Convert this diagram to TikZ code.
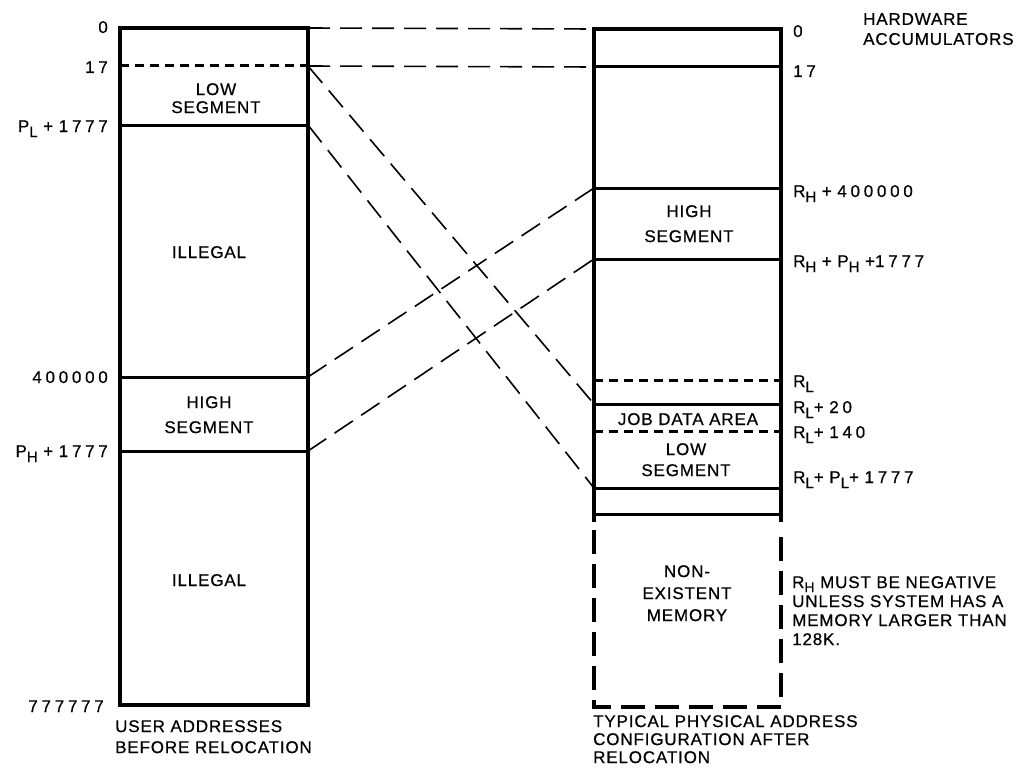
\documentclass[tikz,border=0pt]{standalone}
\usepackage{fontspec}
\setmainfont{Liberation Sans}[LetterSpace=5,FakeBold=0.6]
\newcommand{\lowsub}[1]{\raisebox{-5pt}{\fontsize{15}{15}\selectfont #1}}
\newcommand{\dgt}[1]{{\addfontfeature{LetterSpace=22}#1}}
\begin{document}
\begin{tikzpicture}[x=1pt,y=-1pt,
  lbl/.style={inner sep=0pt,font=\fontsize{17}{19}\selectfont},
  boxline/.style={line width=3.5pt},
  divline/.style={line width=3pt},
  ddivline/.style={line width=3pt,dash pattern=on 9pt off 6pt},
  conn/.style={line width=1.6pt,dash pattern=on 22pt off 10pt},
  nonex/.style={line width=3.5pt,dash pattern=on 24pt off 10pt}]
\useasboundingbox (0,0) rectangle (1029,776);

% ---------- left column (user addresses) ----------
\coordinate (LTL) at (120,28);
\coordinate (LBR) at (308,705);
\coordinate (La) at (308,28);
\coordinate (Lb) at (308,66);
\coordinate (Lc) at (308,125);
\coordinate (Ld) at (308,377);
\coordinate (Le) at (308,451);
\draw[boxline] (LTL) rectangle (LBR);
\draw[ddivline] (120,66) -- (Lb);
\draw[divline] (120,125) -- (Lc);
\draw[divline] (120,377) -- (Ld);
\draw[divline] (120,451) -- (Le);

\node[lbl,anchor=base east] (l0) at (108,33) {\dgt{0}};
\node[lbl,anchor=base east] (l17) at (108,73) {\dgt{17}};
\node[lbl,anchor=base east] (lpl) at (108,132) {P\lowsub{L} + \dgt{1777}};
\node[lbl,anchor=base east] (l400) at (108,383) {\dgt{400000}};
\node[lbl,anchor=base east] (lph) at (108,457) {P\lowsub{H} + \dgt{1777}};
\node[lbl,anchor=base east] (l777) at (104,712) {\dgt{777777}};

\node[lbl,anchor=north,align=center,font=\fontsize{17}{18}\selectfont] (lowL) at (216,83) {LOW\\SEGMENT};
\node[lbl,anchor=base] (ill1) at (209,258) {ILLEGAL};
\node[lbl,anchor=north,align=center,font=\fontsize{17}{25}\selectfont] (highL) at (209,396) {HIGH\\SEGMENT};
\node[lbl,anchor=base] (ill2) at (209,586) {ILLEGAL};
\node[lbl,anchor=north west,align=left,font=\fontsize{17}{21}\selectfont] (capL) at (115,720) {USER ADDRESSES\\BEFORE RELOCATION};

% ---------- right column (physical addresses) ----------
\coordinate (Ra) at (594,29);
\coordinate (Rb) at (594,67);
\coordinate (Rc) at (594,188);
\coordinate (Rd) at (594,259);
\coordinate (Re) at (594,404);
\coordinate (Rf) at (594,488);
\draw[boxline] (594,522) -- (Ra) -- (781,29) -- (781,522);
\draw[divline] (Rb) -- (781,67);
\draw[divline] (Rc) -- (781,188);
\draw[divline] (Rd) -- (781,259);
\draw[ddivline] (594,380) -- (781,380);
\draw[divline] (Re) -- (781,404);
\draw[ddivline] (594,431) -- (781,431);
\draw[divline] (Rf) -- (781,488);
\draw[divline] (594,514) -- (781,514);
\draw[nonex] (594,530) -- (594,707) -- (781,707) -- (781,530);

\node[lbl,anchor=base west] (r0) at (793,37) {\dgt{0}};
\node[lbl,anchor=base west] (r17) at (793,77) {\dgt{17}};
\node[lbl,anchor=base west] (rh4) at (793,197) {R\lowsub{H} + \dgt{400000}};
\node[lbl,anchor=base west] (rhph) at (793,267) {R\lowsub{H} + P\lowsub{H} +\dgt{1777}};
\node[lbl,anchor=base west] (rl) at (793,387) {R\lowsub{L}};
\node[lbl,anchor=base west] (rl20) at (793,413) {R\lowsub{L}+ \dgt{20}};
\node[lbl,anchor=base west] (rl140) at (793,438) {R\lowsub{L}+ \dgt{140}};
\node[lbl,anchor=base west] (rlpl) at (793,483) {R\lowsub{L}+ P\lowsub{L}+ \dgt{1777}};

\node[lbl,anchor=north west,align=left,font=\fontsize{17}{20}\selectfont] (hw) at (863,13) {HARDWARE\\ACCUMULATORS};
\node[lbl,anchor=north,align=center,font=\fontsize{17}{25}\selectfont] (highR) at (689,205) {HIGH\\SEGMENT};
\node[lbl,anchor=base] (jda) at (688,425) {JOB DATA AREA};
\node[lbl,anchor=north,align=center,font=\fontsize{17}{21}\selectfont] (lowR) at (686,443) {LOW\\SEGMENT};
\node[lbl,anchor=north,align=center,font=\fontsize{17}{22}\selectfont] (nonexm) at (687,565) {NON-\\EXISTENT\\MEMORY};
\node[lbl,anchor=north west,align=left,font=\fontsize{17}{19}\selectfont] (note) at (792,576) {R{\raisebox{-4pt}{\fontsize{14}{14}\selectfont H}} MUST BE NEGATIVE\\UNLESS SYSTEM HAS A\\MEMORY LARGER THAN\\128K.};
\node[lbl,anchor=north west,align=left,font=\fontsize{17}{18}\selectfont] (capR) at (593,715) {TYPICAL PHYSICAL ADDRESS\\CONFIGURATION AFTER\\RELOCATION};

% ---------- mapping connectors ----------
\draw[conn] (La) -- (Ra);
\draw[conn] (Lb) -- (Rb);
\draw[conn] (Lb) -- (Re);
\draw[conn] (Lc) -- (Rf);
\draw[conn] (Ld) -- (Rc);
\draw[conn] (Le) -- (Rd);
\end{tikzpicture}
\end{document}
